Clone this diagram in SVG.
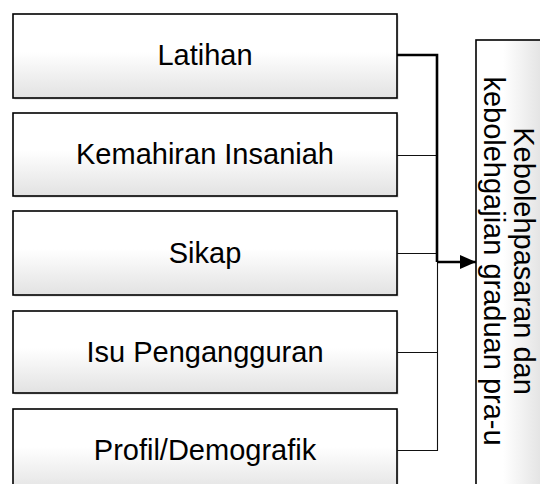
<svg xmlns="http://www.w3.org/2000/svg" width="540" height="484" viewBox="0 0 540 484">
<defs>
<linearGradient id="gv" x1="0" y1="0" x2="0" y2="1">
<stop offset="0" stop-color="#ffffff"/>
<stop offset="0.45" stop-color="#ffffff"/>
<stop offset="1" stop-color="#e2e2e2"/>
</linearGradient>
<linearGradient id="gh" x1="0" y1="0" x2="1" y2="0">
<stop offset="0" stop-color="#ffffff"/>
<stop offset="0.3" stop-color="#ffffff"/>
<stop offset="0.75" stop-color="#e2e2e2"/>
</linearGradient>
<marker id="arr" markerWidth="16" markerHeight="14" refX="16" refY="7" orient="auto" markerUnits="userSpaceOnUse">
<path d="M0,0 L16,7 L0,14 Z" fill="#000"/>
</marker>
</defs>
<style>
.box{fill:url(#gv);stroke:#000;stroke-width:1.6}
.shadow{fill:#b0b0b0;opacity:0.5}
.lbl{font-family:"Liberation Sans",Arial,sans-serif;font-size:29px;fill:#000;text-anchor:middle}
.thin{stroke:#111;stroke-width:1.1;fill:none}
.thick{stroke:#000;stroke-width:2.6;fill:none}
</style>
<g id="node-latihan">
<rect class="shadow" x="14.5" y="15.5" width="384" height="84"/>
<rect class="box" x="13" y="14" width="384" height="84"/>
<text class="lbl" x="205" y="65">Latihan</text>
</g>
<g id="node-kemahiran">
<rect class="shadow" x="14.5" y="114.5" width="384" height="83"/>
<rect class="box" x="13" y="113" width="384" height="83"/>
<text class="lbl" x="205" y="164">Kemahiran Insaniah</text>
</g>
<g id="node-sikap">
<rect class="shadow" x="14.5" y="212.5" width="384" height="84"/>
<rect class="box" x="13" y="211" width="384" height="84"/>
<text class="lbl" x="205" y="263">Sikap</text>
</g>
<g id="node-isu">
<rect class="shadow" x="14.5" y="312.5" width="384" height="82"/>
<rect class="box" x="13" y="311" width="384" height="82"/>
<text class="lbl" x="205" y="362">Isu Pengangguran</text>
</g>
<g id="node-profil">
<rect class="shadow" x="14.5" y="410.5" width="384" height="84"/>
<rect class="box" x="13" y="409" width="384" height="84"/>
<text class="lbl" x="205" y="460">Profil/Demografik</text>
</g>
<g id="node-target">
<rect x="476" y="40" width="90" height="460" fill="url(#gh)" stroke="#000" stroke-width="1.6"/>
<text class="lbl" transform="translate(514,261) rotate(90)"><tspan x="0" y="0">Kebolehpasaran dan</tspan><tspan x="0" y="30">kebolehgajian graduan pra-u</tspan></text>
</g>
<g id="connectors">
<path class="thin" d="M397,155.5 H437.5"/>
<path class="thin" d="M397,253.5 H437.5"/>
<path class="thin" d="M397,352.5 H437.5"/>
<path class="thin" d="M397,450.5 H437.5 V262"/>
<path class="thick" d="M397,55 H437 V262"/>
<path class="thick" d="M437,262 H476" marker-end="url(#arr)"/>
</g>
</svg>
